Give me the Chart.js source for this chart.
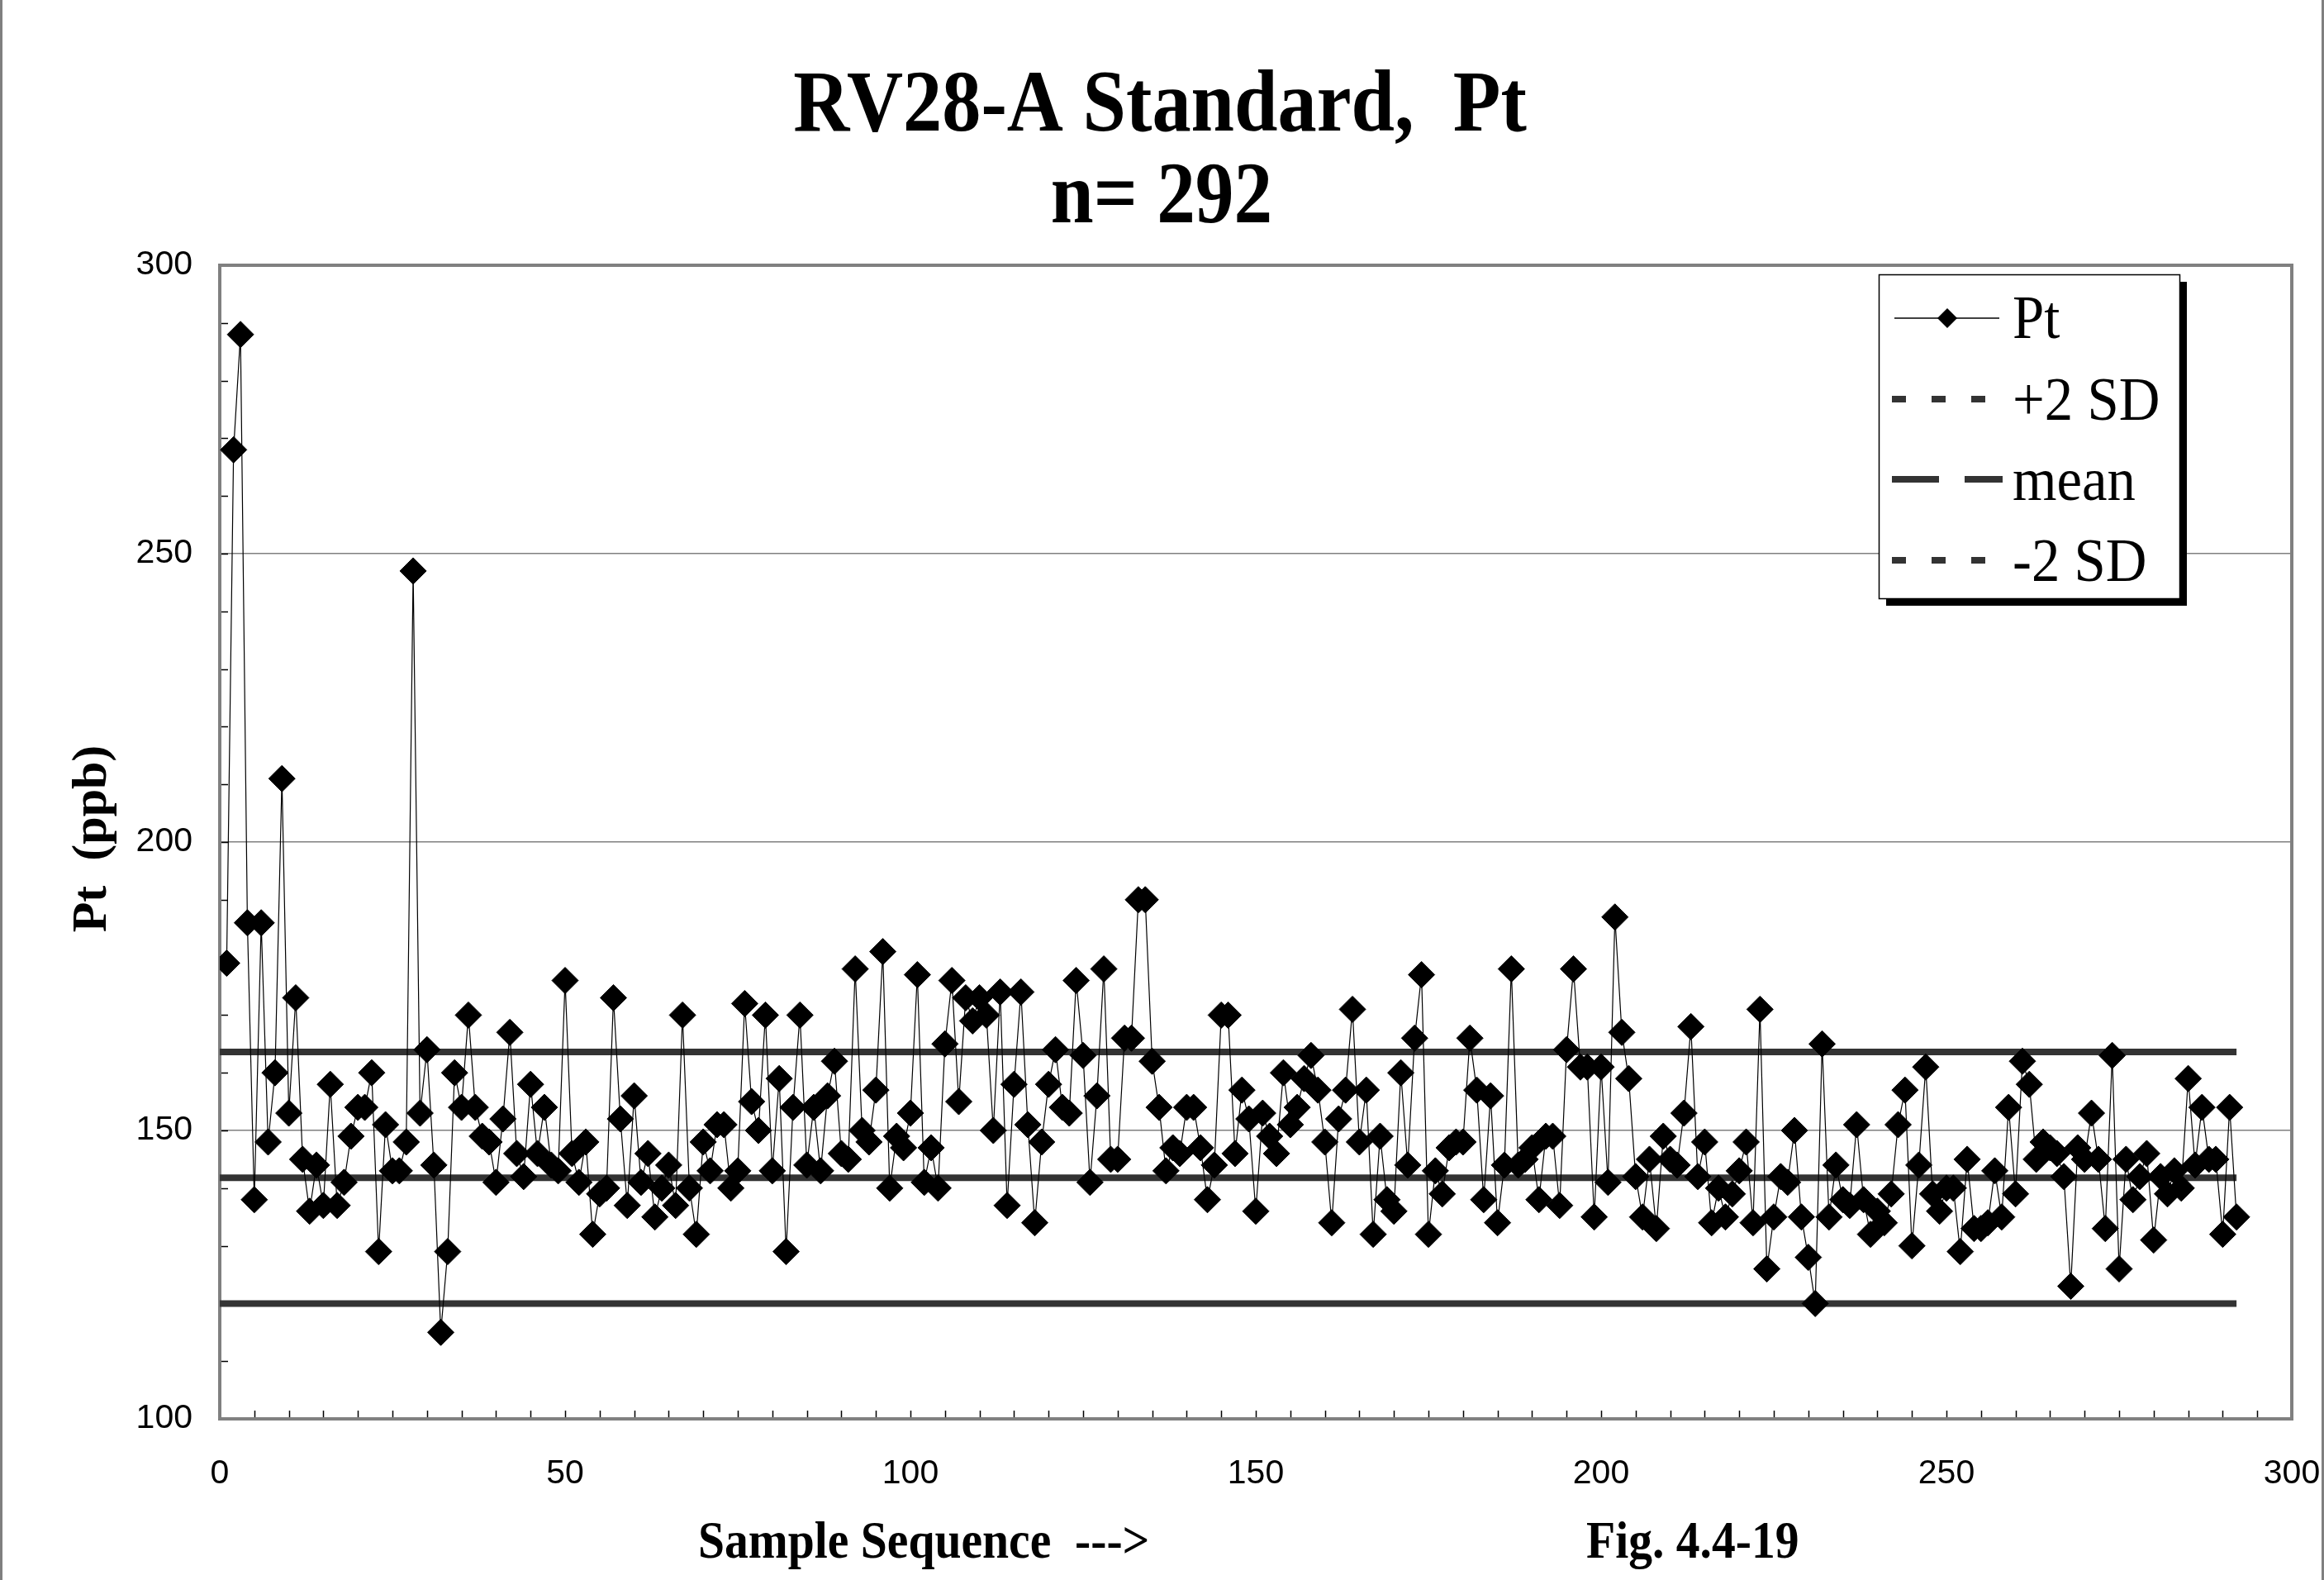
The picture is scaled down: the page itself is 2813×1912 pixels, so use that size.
<!DOCTYPE html>
<html>
<head>
<meta charset="utf-8">
<script src="https://cdn.jsdelivr.net/npm/chart.js@4.4.1/dist/chart.umd.min.js"></script>
<style>
    html, body { margin: 0; padding: 0; background: #ffffff; }
    canvas { display: block; }
</style>
</head>
<body>
<canvas id="chart" width="2813" height="1912" style="width:2813px;height:1912px"></canvas>
<script>
    // Pt values, sample 1..292
    const ptValues = [
        179, 268, 288, 186, 138, 186, 148, 160, 211, 153,
        173, 145, 136, 144, 137, 158, 137, 141, 149, 154,
        154, 160, 129, 151, 143, 143, 148, 247, 153, 164,
        144, 115, 129, 160, 154, 170, 154, 149, 148, 141,
        152, 167, 146, 142, 158, 146, 154, 144, 143, 176,
        146, 141, 148, 132, 139, 140, 173, 152, 137, 156,
        141, 146, 135, 140, 144, 137, 170, 140, 132, 148,
        143, 151, 151, 140, 143, 172, 155, 150, 170, 143,
        159, 129, 154, 170, 144, 154, 143, 156, 162, 146,
        145, 178, 150, 148, 157, 181, 140, 149, 147, 153,
        177, 141, 147, 140, 165, 176, 155, 173, 169, 173,
        170, 150, 174, 137, 158, 174, 151, 134, 148, 158,
        164, 154, 153, 176, 163, 141, 156, 178, 145, 145,
        166, 166, 190, 190, 162, 154, 143, 147, 146, 154,
        154, 147, 138, 144, 170, 170, 146, 157, 152, 136,
        153, 149, 146, 160, 151, 154, 159, 163, 157, 148,
        134, 152, 157, 171, 148, 157, 132, 149, 138, 136,
        160, 144, 166, 177, 132, 143, 139, 147, 148, 148,
        166, 157, 138, 156, 134, 144, 178, 144, 145, 147,
        138, 149, 149, 137, 164, 178, 161, 161, 135, 161,
        141, 187, 167, 159, 142, 135, 145, 133, 149, 145,
        144, 153, 168, 142, 148, 134, 140, 135, 139, 143,
        148, 134, 171, 126, 135, 142, 141, 150, 135, 128,
        120, 165, 135, 144, 138, 137, 151, 138, 132, 136,
        134, 139, 151, 157, 130, 144, 161, 139, 136, 140,
        140, 129, 145, 133, 133, 134, 143, 135, 154, 139,
        162, 158, 145, 148, 147, 146, 142, 123, 147, 145,
        153, 145, 133, 163, 126, 145, 138, 142, 146, 131,
        142, 139, 143, 140, 159, 144, 154, 145, 145, 132,
        154, 135
    ];
    const sampleNumbers = ptValues.map((v, i) => i + 1);

    // control limits
    const meanValue = 141.8;
    const plus2SD = 163.6;
    const minus2SD = 120.0;
    const limitStart = 0;
    const limitEnd = 292;

    const xTicks = [0, 50, 100, 150, 200, 250, 300];
    const yTicks = [100, 150, 200, 250, 300];

    const titleLines = ['RV28-A Standard,  Pt', 'n= 292'];
    const xTitle = 'Sample Sequence  --->';
    const figLabel = 'Fig. 4.4-19';
    const yTitle = 'Pt  (ppb)';
    const legendLabels = ['Pt', '+2 SD', 'mean', '-2 SD'];

    const serif = '"Liberation Serif", "Times New Roman", serif';
    const sans = '"Liberation Sans", Arial, sans-serif';
    const limitColor = '#333333';

    function limitLine(value) {
        return [{ x: limitStart, y: value }, { x: limitEnd, y: value }];
    }

    function stretchedText(ctx, text, x, y, font, sx, align) {
        ctx.save();
        ctx.font = font;
        ctx.textAlign = align;
        ctx.textBaseline = 'alphabetic';
        ctx.fillStyle = '#000000';
        ctx.translate(x, y);
        ctx.scale(sx, 1);
        ctx.fillText(text, 0, 0);
        ctx.restore();
    }

    // frame, inner minor ticks, titles and legend
    const decorations = {
        id: 'decorations',
        beforeDatasetsDraw(chart) {
            const ctx = chart.ctx;
            const a = chart.chartArea;
            const xs = chart.scales.x;
            const ys = chart.scales.y;
            ctx.save();
            ctx.strokeStyle = '#000000';
            ctx.lineWidth = 1.5;
            ctx.beginPath();
            for (let v = 110; v < 300; v += 10) {
                const py = Math.round(ys.getPixelForValue(v)) + 0.5;
                ctx.moveTo(a.left, py);
                ctx.lineTo(a.left + 10, py);
            }
            for (let v = 5; v < 300; v += 5) {
                const px = Math.round(xs.getPixelForValue(v)) + 0.5;
                ctx.moveTo(px, a.bottom);
                ctx.lineTo(px, a.bottom - 10);
            }
            ctx.stroke();
            ctx.strokeStyle = '#808080';
            ctx.lineWidth = 4;
            ctx.strokeRect(a.left, a.top, a.right - a.left, a.bottom - a.top);
            ctx.restore();
        },
        afterDraw(chart) {
            const ctx = chart.ctx;

            // outer frame sides
            ctx.save();
            ctx.fillStyle = '#808080';
            ctx.fillRect(0, 0, 3, chart.height);
            ctx.fillRect(chart.width - 3, 0, 3, chart.height);
            ctx.restore();

            // title
            stretchedText(ctx, titleLines[0], 1404, 158, 'bold 106px ' + serif, 0.89, 'center');
            stretchedText(ctx, titleLines[1], 1406, 269, 'bold 106px ' + serif, 0.88, 'center');

            // axis titles
            stretchedText(ctx, xTitle, 845, 1885, 'bold 64px ' + serif, 0.9, 'left');
            stretchedText(ctx, figLabel, 1920, 1885, 'bold 64px ' + serif, 0.9, 'left');
            ctx.save();
            ctx.translate(128, 1015);
            ctx.rotate(-Math.PI / 2);
            ctx.font = 'bold 60px ' + serif;
            ctx.textAlign = 'center';
            ctx.textBaseline = 'alphabetic';
            ctx.fillStyle = '#000000';
            ctx.fillText(yTitle, 0, 0);
            ctx.restore();

            // legend box with shadow
            const bx = 2274, by = 332, bw = 364, bh = 392;
            ctx.save();
            ctx.fillStyle = '#000000';
            ctx.fillRect(bx + 9, by + 9, bw, bh);
            ctx.fillStyle = '#ffffff';
            ctx.fillRect(bx, by, bw, bh);
            ctx.strokeStyle = '#000000';
            ctx.lineWidth = 1.5;
            ctx.strokeRect(bx + 0.5, by + 0.5, bw, bh);

            const rowY = [385, 483, 580, 678];
            const baseY = [409, 508, 605, 703];

            // Pt sample
            ctx.fillStyle = '#000000';
            ctx.lineWidth = 1.5;
            ctx.beginPath();
            ctx.moveTo(2293, rowY[0]);
            ctx.lineTo(2420, rowY[0]);
            ctx.stroke();
            ctx.beginPath();
            ctx.moveTo(2357 - 12, rowY[0]);
            ctx.lineTo(2357, rowY[0] - 12);
            ctx.lineTo(2357 + 12, rowY[0]);
            ctx.lineTo(2357, rowY[0] + 12);
            ctx.closePath();
            ctx.fill();

            // dashed samples
            ctx.strokeStyle = limitColor;
            ctx.lineWidth = 8;
            ctx.lineCap = 'butt';
            const dashes = [[17, 31], [57, 31], [17, 31]];
            for (let k = 1; k < 4; k++) {
                ctx.setLineDash(dashes[k - 1]);
                ctx.beginPath();
                ctx.moveTo(2290, rowY[k]);
                ctx.lineTo(k === 2 ? 2424 : 2404, rowY[k]);
                ctx.stroke();
            }
            ctx.setLineDash([]);
            ctx.restore();

            legendLabels.forEach((label, k) => {
                stretchedText(ctx, label, 2436, baseY[k], '74px ' + serif, 0.93, 'left');
            });
        }
    };

    new Chart(document.getElementById('chart'), {
        type: 'line',
        data: {
            datasets: [
                {
                    label: 'Pt',
                    data: sampleNumbers.map((x, i) => ({ x: x, y: ptValues[i] })),
                    borderColor: '#000000',
                    borderWidth: 1.2,
                    backgroundColor: '#000000',
                    pointStyle: 'rectRot',
                    pointRadius: 16,
                    pointBorderWidth: 1,
                    pointBorderColor: '#000000',
                    pointBackgroundColor: '#000000',
                    tension: 0
                },
                {
                    label: '+2 SD',
                    data: limitLine(plus2SD),
                    borderColor: limitColor,
                    borderWidth: 8,
                    pointRadius: 0
                },
                {
                    label: 'mean',
                    data: limitLine(meanValue),
                    borderColor: limitColor,
                    borderWidth: 8,
                    pointRadius: 0
                },
                {
                    label: '-2 SD',
                    data: limitLine(minus2SD),
                    borderColor: limitColor,
                    borderWidth: 8,
                    pointRadius: 0
                }
            ]
        },
        options: {
            responsive: false,
            animation: false,
            devicePixelRatio: 1,
            layout: { padding: { top: 321, right: 39, left: 0, bottom: 0 } },
            plugins: {
                legend: { display: false },
                title: { display: false },
                tooltip: { enabled: false }
            },
            scales: {
                x: {
                    type: 'linear',
                    min: 0,
                    max: 300,
                    afterFit: (s) => { s.height = 195; s.paddingLeft = 0; s.paddingRight = 0; },
                    afterBuildTicks: (s) => { s.ticks = xTicks.map(v => ({ value: v })); },
                    grid: { display: false, drawTicks: false },
                    border: { display: false },
                    ticks: {
                        padding: 42,
                        color: '#000000',
                        font: { family: sans, size: 41 },
                        maxRotation: 0
                    }
                },
                y: {
                    type: 'linear',
                    min: 100,
                    max: 300,
                    afterFit: (s) => { s.width = 266; s.paddingTop = 0; s.paddingBottom = 0; },
                    afterBuildTicks: (s) => { s.ticks = yTicks.map(v => ({ value: v })); },
                    grid: { color: '#808080', lineWidth: 1.5, drawTicks: false },
                    border: { display: false },
                    ticks: {
                        padding: 33,
                        color: '#000000',
                        font: { family: sans, size: 41 }
                    }
                }
            }
        },
        plugins: [decorations]
    });
</script>
</body>
</html>
